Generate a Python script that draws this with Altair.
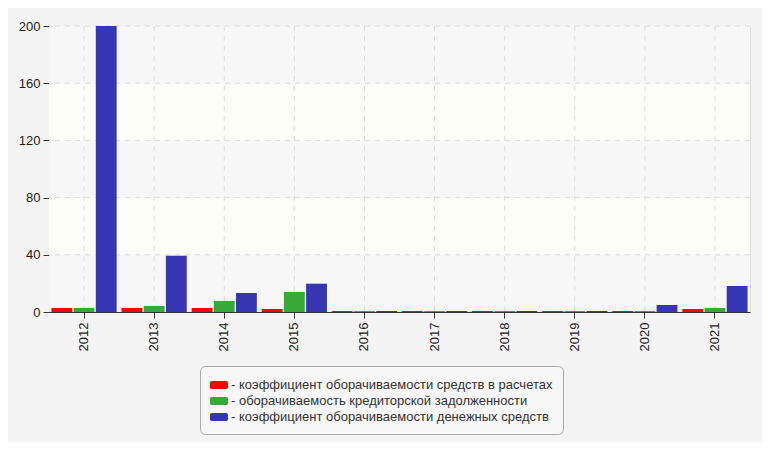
import altair as alt
import pandas as pd

years = ["2012", "2013", "2014", "2015", "2016", "2017", "2018", "2019", "2020", "2021"]
series_names = [
    "- коэффициент оборачиваемости средств в расчетах",
    "- оборачиваемость кредиторской задолженности",
    "- коэффициент оборачиваемости денежных средств",
]
series_colors = ["#ff0000", "#36a936", "#3636b4"]
receivables = [2.8, 2.8, 2.8, 2.1, 0.7, 0.7, 0.7, 0.7, 0.7, 2.1]
payables = [2.8, 4.2, 7.7, 14.0, 0.7, 0.7, 0.7, 0.7, 0.7, 2.8]
cash = [200.0, 39.4, 13.3, 19.8, 0.7, 0.7, 0.7, 0.7, 4.9, 18.2]
y_ticks = [0, 40, 80, 120, 160, 200]
band_lo = [0, 40, 80, 120, 160]
band_hi = [40, 80, 120, 160, 200]
band_fill = ["#f7f7f7", "#fdfdf7", "#f7f7f7", "#fdfdf7", "#f7f7f7"]

rows = []
for i, y in enumerate(years):
    for k, (name, vals) in enumerate(zip(series_names, [receivables, payables, cash])):
        rows.append({"year": y, "series": name, "order": k, "value": vals[i]})
df = pd.DataFrame(rows)
bands = pd.DataFrame({"lo": band_lo, "hi": band_hi, "fill": band_fill})
ygrid = pd.DataFrame({"v": y_ticks[1:]})
xgrid = pd.DataFrame({"year": years})

W, H = 701, 286
FONT = "Liberation Sans"
ydom = alt.Scale(domain=[0, 200], clamp=True)
xscale = alt.Scale(domain=years, paddingInner=0.07, paddingOuter=0.035)

xaxis = alt.Axis(
    labelAngle=-90, labelAlign="right", labelBaseline="middle",
    labelFontSize=13, labelColor="#222", labelPadding=4,
    tickSize=6, tickColor="#333", domainColor="#333",
    grid=False, labelFont=FONT, title=None,
)
yaxis = alt.Axis(
    values=y_ticks, labelFontSize=13, labelColor="#222",
    tickSize=6, tickColor="#333", domainColor="#333",
    grid=False, labelFont=FONT, labelPadding=3, title=None,
)

bg = alt.Chart(bands).mark_rect().encode(
    x=alt.value(0),
    x2=alt.value(W),
    y=alt.Y("lo:Q", scale=ydom, axis=yaxis),
    y2="hi:Q",
    fill=alt.Fill("fill:N", scale=None, legend=None),
)

hgrid = alt.Chart(ygrid).mark_rule(color="#dcdcdc", strokeDash=[5, 5], strokeWidth=1).encode(
    y=alt.Y("v:Q", scale=ydom, axis=yaxis),
)

vgrid = alt.Chart(xgrid).mark_rule(color="#dcdcdc", strokeDash=[5, 5], strokeWidth=1).encode(
    x=alt.X("year:N", scale=xscale, axis=xaxis),
)

sym = ("M-0.8,-0.44 L0.8,-0.44 Q1,-0.44 1,-0.24 L1,0.24 Q1,0.44 0.8,0.44 "
       "L-0.8,0.44 Q-1,0.44 -1,0.24 L-1,-0.24 Q-1,-0.44 -0.8,-0.44 Z")

bars = alt.Chart(df).mark_bar().encode(
    x=alt.X("year:N", sort=years, scale=xscale, axis=xaxis),
    xOffset=alt.XOffset("order:O", scale=alt.Scale(paddingInner=0.06)),
    y=alt.Y("value:Q", scale=ydom, axis=yaxis),
    color=alt.Color(
        "series:N",
        sort=series_names,
        scale=alt.Scale(domain=series_names, range=series_colors),
        legend=alt.Legend(
            title=None, orient="none", legendX=151, legendY=340,
            symbolType=sym, symbolSize=324, symbolStrokeWidth=0,
            symbolOpacity=1,
            labelFontSize=13, labelColor="#333", labelFont=FONT,
            labelOffset=3, rowPadding=0, padding=10,
            fillColor="#f7f7f7", strokeColor="#aaaaaa", cornerRadius=5,
            labelLimit=500,
        ),
    ),
)

chart = alt.layer(bg, hgrid, vgrid, bars).resolve_scale(
    color="independent"
).properties(
    width=W, height=H,
    autosize=alt.AutoSizeParams(type="none"),
    padding={"left": 41, "top": 18, "right": 12, "bottom": 130},
    background="#f4f4f4",
).configure_view(stroke="#dddddd")

chart.save("out.html", embed_options={"renderer": "svg", "actions": False})
